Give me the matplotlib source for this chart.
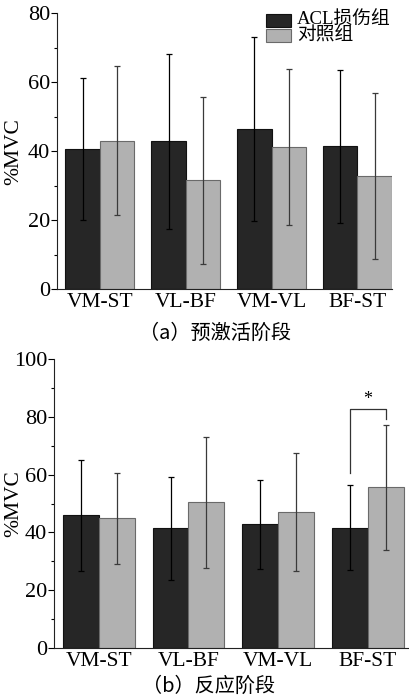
import numpy as np
import matplotlib.pyplot as plt
from matplotlib.patches import Rectangle

plt.rcParams['font.family'] = ['Liberation Serif', 'Noto Sans CJK SC']

categories = ['VM-ST', 'VL-BF', 'VM-VL', 'BF-ST']
groups = ['ACL损伤组', '对照组']

# (a) pre-activation phase
pre_acl = [40.7, 42.8, 46.4, 41.4]
pre_acl_sd = [20.6, 25.3, 26.6, 22.2]
pre_ctrl = [43.0, 31.5, 41.3, 32.8]
pre_ctrl_sd = [21.6, 24.2, 22.6, 24.1]

# (b) reaction phase
re_acl = [45.9, 41.4, 42.8, 41.6]
re_acl_sd = [19.2, 17.8, 15.5, 14.8]
re_ctrl = [44.9, 50.4, 47.1, 55.6]
re_ctrl_sd = [15.8, 22.7, 20.6, 21.6]

dark = '#262626'
light = '#b1b1b1'
dark_edge = '#111111'
light_edge = '#6a6a6a'

fig = plt.figure(figsize=(4.09, 6.98), dpi=100)
ax1 = fig.add_axes([0.139, 0.586, 0.819, 0.395])
ax2 = fig.add_axes([0.132, 0.072, 0.866, 0.413])


def draw(ax, acl, acl_sd, ctrl, ctrl_sd, ymax, xmax, labx):
    x = np.arange(len(categories))
    w = 0.4
    ax.bar(x - w / 2, acl, w, color=dark, edgecolor=dark_edge, linewidth=0.8, zorder=2)
    ax.bar(x + w / 2, ctrl, w, color=light, edgecolor=light_edge, linewidth=0.8, zorder=2)
    ax.errorbar(x - w / 2, acl, yerr=acl_sd, fmt='none', ecolor='black',
                elinewidth=0.9, capsize=2, capthick=0.9, zorder=3)
    ax.errorbar(x + w / 2, ctrl, yerr=ctrl_sd, fmt='none', ecolor='#3a3a3a',
                elinewidth=0.9, capsize=2, capthick=0.9, zorder=3)
    ax.set_xlim(-0.5, xmax)
    ax.set_ylim(0, ymax)
    ax.set_xticks(x)
    ax.set_xticklabels(categories, fontsize=15.5)
    ax.tick_params(axis='x', length=0, pad=3)
    ax.set_yticks(np.arange(0, ymax + 1, 20))
    ax.set_yticks(np.arange(10, ymax, 20), minor=True)
    ax.tick_params(axis='y', labelsize=16, direction='out', length=4, width=0.8, pad=1)
    ax.tick_params(axis='y', which='minor', direction='out', length=2.5, width=0.8)
    ax.spines['top'].set_visible(False)
    ax.spines['right'].set_visible(False)
    ax.spines['left'].set_color('#222222')
    ax.spines['bottom'].set_color('#222222')
    ax.set_ylabel('%MVC', fontsize=15.5)
    ax.yaxis.set_label_coords(labx, 0.5)


draw(ax1, pre_acl, pre_acl_sd, pre_ctrl, pre_ctrl_sd, 80, 3.4, -0.1)
draw(ax2, re_acl, re_acl_sd, re_ctrl, re_ctrl_sd, 100, 3.45, -0.088)

# compact legend, drawn by hand so the rows sit tight like the original
legend_rows = [(groups[0], dark, dark_edge, 0.949), (groups[1], light, light_edge, 0.895)]
for label, fc, ec, y0 in legend_rows:
    ax1.add_patch(Rectangle((0.624, y0), 0.075, 0.047, transform=ax1.transAxes,
                            facecolor=fc, edgecolor=ec, linewidth=0.8, clip_on=False))
    ax1.text(0.716, y0 + 0.024, label, transform=ax1.transAxes, ha='left',
             va='center', fontsize=13.5)

# significance bracket on BF-ST
ax2.plot([2.8, 2.8, 3.2, 3.2], [60.5, 82.7, 82.7, 79.2], color='#333333', lw=0.9)
ax2.text(3.0, 83.3, '*', ha='center', va='bottom', fontsize=13)

fig.text(0.527, 0.523, '（a）预激活阶段', ha='center', va='center', fontsize=14.5,
         family=['Noto Sans CJK SC'])
fig.text(0.509, 0.016, '（b）反应阶段', ha='center', va='center', fontsize=14.5,
         family=['Noto Sans CJK SC'])

fig.savefig('out.png', dpi=100)
